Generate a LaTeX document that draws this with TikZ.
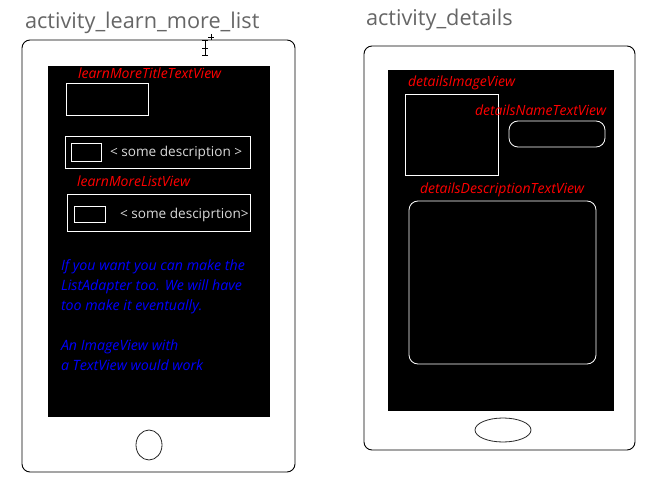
\documentclass[tikz,border=0pt]{standalone}
\usepackage{fontspec}
\setmainfont{Open Sans}
\usetikzlibrary{shapes.geometric}

\begin{document}
\begin{tikzpicture}[x=1pt, y=-1pt,
    every node/.style={inner sep=0pt, outer sep=0pt},
    tablet/.style={draw=black, line width=0.9pt, rounded corners=8pt, anchor=north west},
    screen/.style={fill=black, anchor=north west},
    widget/.style={draw=white, line width=0.8pt, anchor=north west},
    roundwidget/.style={widget, rounded corners=9pt},
    homebtn/.style={draw=black!85, line width=0.8pt, ellipse, inner sep=0pt},
    title/.style={anchor=base west, text=black!60, font=\fontsize{21.7}{25}\selectfont},
    idlabel/.style={anchor=base west, text=red, font=\fontsize{14}{15}\selectfont\itshape},
    rowtext/.style={anchor=base west, text=white!85!black, font=\fontsize{13.6}{15}\selectfont},
    note/.style={anchor=base west, align=left, text=blue, font=\fontsize{14.2}{20}\selectfont\itshape}]

    \useasboundingbox (0,0) rectangle (645,478);

    % activity_learn_more_list
    \node[title] (listTitle) at (25,29) {activity\_learn\_more\_list};
    \node[tablet, minimum width=273pt, minimum height=432pt] (listTablet) at (22,40) {};
    \node[screen, minimum width=222pt, minimum height=351pt] (listScreen) at (48,66) {};
    \node[idlabel] (titleLabel) at (78,79) {learnMoreTitleTextView};
    \node[widget, minimum width=82pt, minimum height=32pt] (titleBox) at (66,83) {};
    \node[widget, minimum width=185pt, minimum height=32pt] (rowOne) at (65,136) {};
    \node[widget, minimum width=30pt, minimum height=18pt] (rowOneImg) at (71,143) {};
    \node[rowtext] (rowOneText) at (110,157) {< some description >};
    \node[idlabel] (listLabel) at (77,187) {learnMoreListView};
    \node[widget, minimum width=183pt, minimum height=37pt] (rowTwo) at (67,194) {};
    \node[widget, minimum width=31pt, minimum height=16pt] (rowTwoImg) at (74,206) {};
    \node[rowtext] (rowTwoText) at (120,219) {< some desciprtion>};
    \node[note] (adapterNote) at (61,370) {If you want you can make the\\
        ListAdapter too. We will have\\
        too make it eventually.\\[20pt]
        An ImageView with\\
        a TextView would work};
    \node[homebtn, minimum width=26pt, minimum height=30pt] (listHome) at (149,445) {};

    % cursor
    \draw[black, line width=0.6pt] (205,40) -- (205,55)
        (202,40) -- (208,40) (202,55) -- (208,55) (202,48) -- (208,48)
        (211,34) -- (211,40) (208,37) -- (214,37);

    % activity_details
    \node[title] (detailsTitle) at (366,26) {activity\_details};
    \node[tablet, minimum width=271pt, minimum height=404pt] (detailsTablet) at (364,46) {};
    \node[screen, minimum width=226pt, minimum height=341pt] (detailsScreen) at (388,70) {};
    \node[idlabel] (imageLabel) at (408,87) {detailsImageView};
    \node[widget, minimum width=93pt, minimum height=81pt] (imageBox) at (405,94) {};
    \node[idlabel] (nameLabel) at (475,116) {detailsNameTextView};
    \node[roundwidget, minimum width=96pt, minimum height=26pt] (nameBox) at (509,121) {};
    \node[idlabel] (descLabel) at (420,194) {detailsDescriptionTextView};
    \node[roundwidget, minimum width=187pt, minimum height=163pt] (descBox) at (409,201) {};
    \node[homebtn, minimum width=56pt, minimum height=24pt] (detailsHome) at (503,430) {};
\end{tikzpicture}
\end{document}
